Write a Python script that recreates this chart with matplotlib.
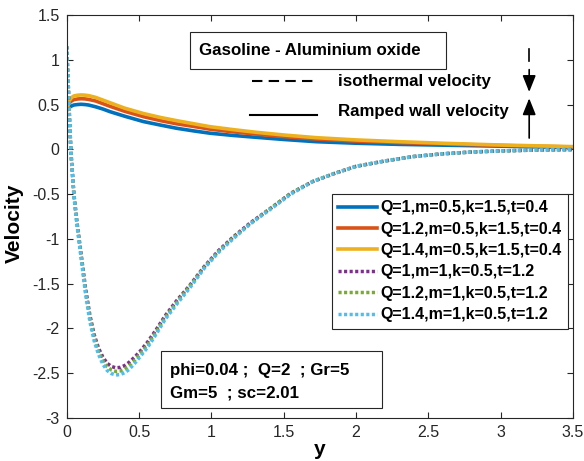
import matplotlib
matplotlib.use('Agg')
import matplotlib.pyplot as plt
from matplotlib.patches import Rectangle
from matplotlib.ticker import FuncFormatter

plt.rcParams['font.family'] = ['Liberation Sans', 'DejaVu Sans']
plt.rcParams['axes.unicode_minus'] = False

# ramped wall velocity profiles (solid)
y_solid = [0, 0.01, 0.02, 0.035, 0.05, 0.075, 0.1, 0.125, 0.15, 0.2, 0.25, 0.3, 0.4, 0.53,
           0.65, 0.76, 0.88, 0.99, 1.15, 1.31, 1.5, 1.725, 2.0, 2.3, 2.65, 3.0, 3.22, 3.5]
u_q1 = [0.44, 0.455, 0.47, 0.485, 0.495, 0.5, 0.503, 0.5, 0.495, 0.475, 0.45, 0.42, 0.37, 0.31,
        0.27, 0.235, 0.205, 0.18, 0.155, 0.134, 0.11, 0.085, 0.068, 0.055, 0.045, 0.035, 0.028, 0.02]
u_q12 = [0.44, 0.49, 0.52, 0.542, 0.555, 0.562, 0.565, 0.563, 0.558, 0.54, 0.51, 0.48, 0.425, 0.365,
         0.32, 0.285, 0.255, 0.225, 0.195, 0.17, 0.142, 0.115, 0.092, 0.075, 0.058, 0.043, 0.035, 0.026]
u_q14 = [0.43, 0.50, 0.55, 0.58, 0.596, 0.604, 0.607, 0.605, 0.60, 0.58, 0.55, 0.52, 0.46, 0.40,
         0.355, 0.32, 0.285, 0.253, 0.22, 0.19, 0.16, 0.13, 0.105, 0.085, 0.065, 0.048, 0.04, 0.03]

# isothermal velocity profiles (dotted)
y_dot = [0, 0.01, 0.02, 0.03, 0.05, 0.07, 0.09, 0.11, 0.13, 0.16, 0.19, 0.22, 0.25, 0.28,
         0.31, 0.34, 0.37, 0.40, 0.43, 0.47, 0.51, 0.56, 0.62, 0.68, 0.76, 0.85, 0.95, 1.05,
         1.15, 1.27, 1.40, 1.55, 1.70, 1.85, 2.0, 2.2, 2.4, 2.6, 2.8, 3.0, 3.25, 3.5]
v_q1 = [1.15, 0.75, 0.32, -0.05, -0.50, -0.80, -1.05, -1.30, -1.55, -1.85, -2.07, -2.22,
        -2.32, -2.39, -2.425, -2.44, -2.435, -2.415, -2.38, -2.32, -2.25, -2.15, -2.01, -1.86,
        -1.69, -1.52, -1.31, -1.13, -0.98, -0.82, -0.67, -0.49, -0.36, -0.27, -0.19, -0.13,
        -0.08, -0.05, -0.03, -0.018, -0.008, -0.003]
v_q12 = [1.15, 0.75, 0.32, -0.05, -0.51, -0.81, -1.07, -1.32, -1.58, -1.88, -2.10, -2.255,
         -2.36, -2.43, -2.465, -2.48, -2.475, -2.455, -2.42, -2.355, -2.28, -2.18, -2.035, -1.88,
         -1.71, -1.53, -1.32, -1.14, -0.99, -0.83, -0.67, -0.49, -0.36, -0.27, -0.19, -0.13,
         -0.08, -0.05, -0.03, -0.018, -0.008, -0.003]
v_q14 = [1.15, 0.75, 0.32, -0.05, -0.52, -0.83, -1.09, -1.35, -1.61, -1.92, -2.14, -2.29,
         -2.40, -2.47, -2.505, -2.52, -2.515, -2.495, -2.46, -2.39, -2.31, -2.21, -2.06, -1.90,
         -1.73, -1.55, -1.33, -1.15, -1.00, -0.83, -0.68, -0.50, -0.36, -0.27, -0.19, -0.13,
         -0.08, -0.05, -0.03, -0.018, -0.008, -0.003]

labels = ['Q=1,m=0.5,k=1.5,t=0.4', 'Q=1.2,m=0.5,k=1.5,t=0.4', 'Q=1.4,m=0.5,k=1.5,t=0.4',
          'Q=1,m=1,k=0.5,t=1.2', 'Q=1.2,m=1,k=0.5,t=1.2', 'Q=1.4,m=1,k=0.5,t=1.2']
colors = ['#0072BD', '#D95319', '#EDB120', '#7E2F8E', '#77AC30', '#4DBEEE']

fig = plt.figure(figsize=(5.84, 4.61), dpi=100)
ax = fig.add_axes([0.1142, 0.0933, 0.8670, 0.8742])

for u, c, lab in zip([u_q1, u_q12, u_q14], colors[:3], labels[:3]):
    ax.plot(y_solid, u, color=c, lw=2.6, label=lab)
for v, c, lab in zip([v_q1, v_q12, v_q14], colors[3:], labels[3:]):
    ax.plot(y_dot, v, color=c, lw=2.5, dashes=(0.9, 0.7), label=lab)

ax.set_xlim(0, 3.5)
ax.set_ylim(-3, 1.5)
ax.set_xticks([0, 0.5, 1, 1.5, 2, 2.5, 3, 3.5])
ax.set_yticks([-3, -2.5, -2, -1.5, -1, -0.5, 0, 0.5, 1, 1.5])
fmt = FuncFormatter(lambda v, p: f'{v:g}')
ax.xaxis.set_major_formatter(fmt)
ax.yaxis.set_major_formatter(fmt)
ax.tick_params(direction='in', top=True, right=True, length=4, width=0.8,
               labelsize=11.5, colors='#262626', pad=5)
for s in ax.spines.values():
    s.set_color('#262626')
    s.set_linewidth(0.8)

ax.set_xlabel('y', fontsize=15, fontweight='bold', labelpad=0)
ax.set_ylabel('Velocity', fontsize=15, fontweight='bold', labelpad=0)
ax.yaxis.set_label_coords(-0.085, 0.484)

leg = ax.legend(loc='upper left', bbox_to_anchor=(0.524, 0.556), borderaxespad=0,
                fancybox=False, edgecolor='#262626', framealpha=1,
                prop={'weight': 'bold', 'size': 11.5}, handlelength=2.4,
                handletextpad=0.25, labelspacing=0.4, borderpad=0.4)
leg.get_frame().set_linewidth(0.8)

# title box
ax.add_patch(Rectangle((0.2435, 0.865), 0.5055, 0.092, transform=ax.transAxes,
                       fill=False, edgecolor='#262626', lw=0.8))
ax.text(0.262, 0.911, 'Gasoline - Aluminium oxide', transform=ax.transAxes,
        fontsize=12.2, fontweight='bold', va='center', ha='left')

# line style key
ax.plot([0.365, 0.496], [0.836, 0.836], transform=ax.transAxes, color='k', lw=1.5,
        dashes=(5, 3))
ax.plot([0.362, 0.494], [0.753, 0.753], transform=ax.transAxes, color='k', lw=1.5)
ax.text(0.536, 0.8345, 'isothermal velocity', transform=ax.transAxes,
        fontsize=12.2, fontweight='bold', va='center', ha='left')
ax.text(0.536, 0.760, 'Ramped wall velocity', transform=ax.transAxes,
        fontsize=12.2, fontweight='bold', va='center', ha='left')

# arrows
head = '-|>,head_width=0.4,head_length=1.0'
ax.plot([3.197, 3.197], [1.12, 0.99], color='k', lw=1.2)
ax.annotate('', xy=(3.197, 0.64), xytext=(3.197, 0.89),
            arrowprops=dict(arrowstyle=head, color='k', lw=1.2, shrinkA=0, shrinkB=0))
ax.annotate('', xy=(3.197, 0.57), xytext=(3.197, 0.126),
            arrowprops=dict(arrowstyle=head, color='k', lw=1.2, shrinkA=0, shrinkB=0))

# parameter box
ax.add_patch(Rectangle((0.186, 0.025), 0.437, 0.141, transform=ax.transAxes,
                       fill=False, edgecolor='#262626', lw=0.8))
ax.text(0.205, 0.119, 'phi=0.04 ;  Q=2  ; Gr=5', transform=ax.transAxes,
        fontsize=12.2, fontweight='bold', va='center', ha='left')
ax.text(0.205, 0.063, 'Gm=5  ; sc=2.01', transform=ax.transAxes,
        fontsize=12.2, fontweight='bold', va='center', ha='left')

fig.savefig('out.png', dpi=100)
